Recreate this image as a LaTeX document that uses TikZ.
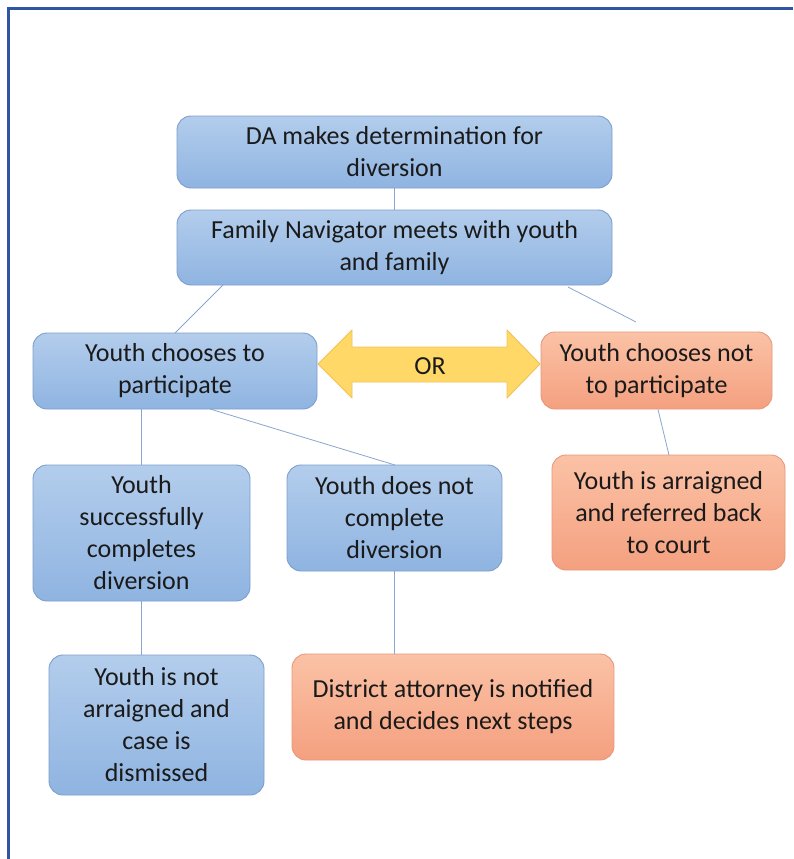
\documentclass[tikz,border=0pt]{standalone}
\usepackage{fontspec}
\setmainfont{Carlito}
\definecolor{frameblue}{HTML}{2F55A4}
\definecolor{bluetop}{HTML}{B3CDEC}
\definecolor{bluebot}{HTML}{8FB4E1}
\definecolor{blueline}{HTML}{7E9ECB}
\definecolor{orangetop}{HTML}{FBC2A6}
\definecolor{orangebot}{HTML}{F4A07F}
\definecolor{orangeline}{HTML}{E7987C}
\definecolor{yellowfill}{HTML}{FFD868}
\definecolor{yellowline}{HTML}{F0C259}
\definecolor{conn}{HTML}{8AA6CF}
\definecolor{txt}{HTML}{1A1A1A}
\begin{document}
\begin{tikzpicture}[x=1pt,y=-1pt,
  bbox/.style={rounded corners=14pt, draw=blueline, line width=0.9pt, top color=bluetop, bottom color=bluebot,
    text=txt, align=center, font=\fontsize{26}{32}\selectfont, inner sep=0pt},
  obox/.style={bbox, draw=orangeline, top color=orangetop, bottom color=orangebot},
  link/.style={draw=conn, line width=0.8pt}]
\useasboundingbox (0,0) rectangle (793,859);
\fill[white] (0,0) rectangle (793,859);
\draw[frameblue, line width=3pt] (8.5,859) -- (8.5,8.5) -- (793,8.5);

\node[bbox, minimum width=435pt, minimum height=72pt] (da) at (394.5,152) {DA makes determination for\\diversion};
\node[bbox, minimum width=435pt, minimum height=75pt] (fn) at (394.5,247.5) {Family Navigator meets with youth\\and family};
\node[bbox, minimum width=284pt, minimum height=76pt] (p) at (175,371) {Youth chooses to\\participate};
\node[obox, minimum width=231pt, minimum height=77pt] (np) at (656.5,370.5) {Youth chooses not\\to participate};
\node[bbox, minimum width=217pt, minimum height=136pt] (s) at (141.5,533) {Youth\\successfully\\completes\\diversion};
\node[bbox, minimum width=215pt, minimum height=106pt] (nc) at (394.5,518) {Youth does not\\complete\\diversion};
\node[obox, minimum width=233pt, minimum height=115pt] (ar) at (668.5,512.5) {Youth is arraigned\\and referred back\\to court};
\node[bbox, minimum width=215pt, minimum height=140pt] (na) at (156.5,725) {Youth is not\\arraigned and\\case is\\dismissed};
\node[obox, minimum width=322pt, minimum height=106pt] (dan) at (453,707) {District attorney is notified\\and decides next steps};

% OR double arrow
\draw[yellowline, line width=0.9pt, fill=yellowfill, line join=round]
  (318,364) -- (352,330) -- (352,347) -- (507,347) -- (507,330) -- (540,364)
  -- (507,398) -- (507,382) -- (352,382) -- (352,398) -- cycle;
\node[text=txt, font=\fontsize{26}{30}\selectfont] (or) at (430,366) {OR};

% connectors
\coordinate (fnl) at (223,285);
\coordinate (fnr) at (568,287);
\coordinate (npt) at (636,322);
\draw[link] (da.south) -- (fn.north);
\draw[link] (fnl) -- (175,333);
\draw[link] (fnr) -- (npt);
\draw[link] (p.south -| s.north) -- (s.north);
\draw[link] (210,409) -- (395,465);
\draw[link] (658,409.5) -- (669,455);
\draw[link] (s.south) -- (s.south |- na.north);
\draw[link] (nc.south) -- (nc.south |- dan.north);
\end{tikzpicture}
\end{document}
